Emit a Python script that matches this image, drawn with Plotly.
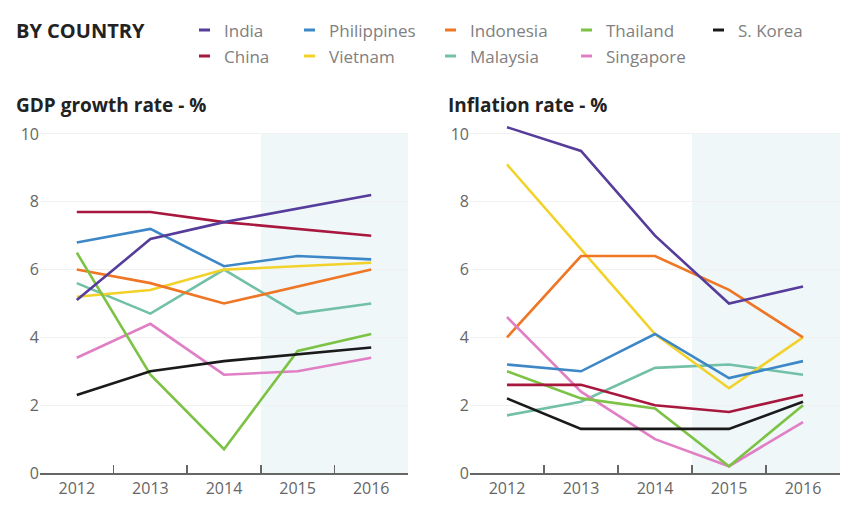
import plotly.graph_objects as go

years = ["2012", "2013", "2014", "2015", "2016"]
countries = ["India", "China", "Philippines", "Vietnam", "Indonesia",
             "Malaysia", "Thailand", "Singapore", "S. Korea"]
colors = {
    "India": "#563c9b", "China": "#a8173d", "Philippines": "#3d87c6",
    "Vietnam": "#f2d22a", "Indonesia": "#ee7625", "Malaysia": "#72c0a6",
    "Thailand": "#7cc244", "Singapore": "#e07fc4", "S. Korea": "#1a1a1a",
}
gdp_india = [5.1, 6.9, 7.4, 7.8, 8.2]
gdp_china = [7.7, 7.7, 7.4, 7.2, 7.0]
gdp_philippines = [6.8, 7.2, 6.1, 6.4, 6.3]
gdp_vietnam = [5.2, 5.4, 6.0, 6.1, 6.2]
gdp_indonesia = [6.0, 5.6, 5.0, 5.5, 6.0]
gdp_malaysia = [5.6, 4.7, 6.0, 4.7, 5.0]
gdp_thailand = [6.5, 2.9, 0.7, 3.6, 4.1]
gdp_singapore = [3.4, 4.4, 2.9, 3.0, 3.4]
gdp_skorea = [2.3, 3.0, 3.3, 3.5, 3.7]

inf_india = [10.2, 9.5, 7.0, 5.0, 5.5]
inf_china = [2.6, 2.6, 2.0, 1.8, 2.3]
inf_philippines = [3.2, 3.0, 4.1, 2.8, 3.3]
inf_vietnam = [9.1, 6.6, 4.1, 2.5, 4.0]
inf_indonesia = [4.0, 6.4, 6.4, 5.4, 4.0]
inf_malaysia = [1.7, 2.1, 3.1, 3.2, 2.9]
inf_thailand = [3.0, 2.2, 1.9, 0.2, 2.0]
inf_singapore = [4.6, 2.4, 1.0, 0.2, 1.5]
inf_skorea = [2.2, 1.3, 1.3, 1.3, 2.1]

gdp = {"India": gdp_india, "China": gdp_china, "Philippines": gdp_philippines,
       "Vietnam": gdp_vietnam, "Indonesia": gdp_indonesia, "Malaysia": gdp_malaysia,
       "Thailand": gdp_thailand, "Singapore": gdp_singapore, "S. Korea": gdp_skorea}
inf = {"India": inf_india, "China": inf_china, "Philippines": inf_philippines,
       "Vietnam": inf_vietnam, "Indonesia": inf_indonesia, "Malaysia": inf_malaysia,
       "Thailand": inf_thailand, "Singapore": inf_singapore, "S. Korea": inf_skorea}

y_ticks = [0, 2, 4, 6, 8, 10]
FONT = "Open Sans"
W, H = 858, 511

fig = go.Figure()
draw_order = ["Malaysia", "Vietnam", "Indonesia", "Singapore", "Thailand",
              "Philippines", "S. Korea", "China", "India"]
for c in draw_order:
    fig.add_trace(go.Scatter(x=years, y=gdp[c], mode="lines", name=c,
                             line=dict(color=colors[c], width=2.6),
                             xaxis="x", yaxis="y", showlegend=False))
    fig.add_trace(go.Scatter(x=years, y=inf[c], mode="lines", name=c,
                             line=dict(color=colors[c], width=2.6),
                             xaxis="x2", yaxis="y2", showlegend=False))

def px_x(p):
    return p / W

def px_y(p):
    return 1 - p / H

y_bottom, y_top = 473, 120.4
xaxis_common = dict(
    type="category", range=[-0.5, 4.5], showgrid=False, showline=True,
    linecolor="#666", linewidth=1.5, ticks="inside", tickson="boundaries",
    ticklen=8, tickcolor="#666", tickwidth=1.5, automargin=False,
    tickfont=dict(family=FONT, size=16, color="#666"), fixedrange=True,
)
yaxis_common = dict(
    range=[0, 10.4], tickvals=y_ticks, showgrid=True, gridcolor="#f1f1f1",
    gridwidth=1, zeroline=False, showline=False, automargin=False,
    tickfont=dict(family=FONT, size=16, color="#666"), ticks="", fixedrange=True,
    domain=[px_y(y_bottom), px_y(y_top)],
)
fig.update_layout(
    width=W, height=H, margin=dict(l=0, r=0, t=0, b=0, autoexpand=False),
    paper_bgcolor="white", plot_bgcolor="white", showlegend=False,
    xaxis=dict(xaxis_common, domain=[px_x(40), px_x(408)], anchor="y"),
    yaxis=dict(yaxis_common, anchor="x"),
    xaxis2=dict(xaxis_common, domain=[px_x(470), px_x(840)], anchor="y2"),
    yaxis2=dict(yaxis_common, anchor="x2"),
)

# shaded forecast region
for xr, yr in [("x", "y"), ("x2", "y2")]:
    fig.add_shape(type="rect", xref=xr, yref=yr, x0=2.5, x1=4.5, y0=0, y1=10,
                  fillcolor="#eff7f9", line=dict(width=0), layer="below")

# titles
fig.add_annotation(text="<b>BY COUNTRY</b>", xref="paper", yref="paper",
                   x=px_x(14), y=px_y(30), xanchor="left", yanchor="middle",
                   showarrow=False, font=dict(family=FONT, size=20, color="#222"))
fig.add_annotation(text="<b>GDP growth rate - %</b>", xref="paper", yref="paper",
                   x=px_x(14), y=px_y(105), xanchor="left", yanchor="middle",
                   showarrow=False, font=dict(family=FONT, size=19, color="#222"))
fig.add_annotation(text="<b>Inflation rate - %</b>", xref="paper", yref="paper",
                   x=px_x(446), y=px_y(105), xanchor="left", yanchor="middle",
                   showarrow=False, font=dict(family=FONT, size=19, color="#222"))

# legend
legend_rows = [["India", "Philippines", "Indonesia", "Thailand", "S. Korea"],
               ["China", "Vietnam", "Malaysia", "Singapore"]]
col_x = [199, 304, 445, 581, 713]
row_y = [30, 56]
for r, row in enumerate(legend_rows):
    for ci, c in enumerate(row):
        x0 = col_x[ci]
        fig.add_shape(type="line", xref="paper", yref="paper",
                      x0=px_x(x0), x1=px_x(x0 + 11), y0=px_y(row_y[r]), y1=px_y(row_y[r]),
                      line=dict(color=colors[c], width=3))
        fig.add_annotation(text=c, xref="paper", yref="paper",
                           x=px_x(x0 + 23), y=px_y(row_y[r]), xanchor="left",
                           yanchor="middle", showarrow=False,
                           font=dict(family=FONT, size=17, color="#808080"))

fig.write_html(
    "out.html",
    config={"displayModeBar": False, "staticPlot": True},
    post_script="document.documentElement.style.margin='0';"
                "document.body.style.margin='0';"
                "document.body.style.overflow='hidden';",
)
